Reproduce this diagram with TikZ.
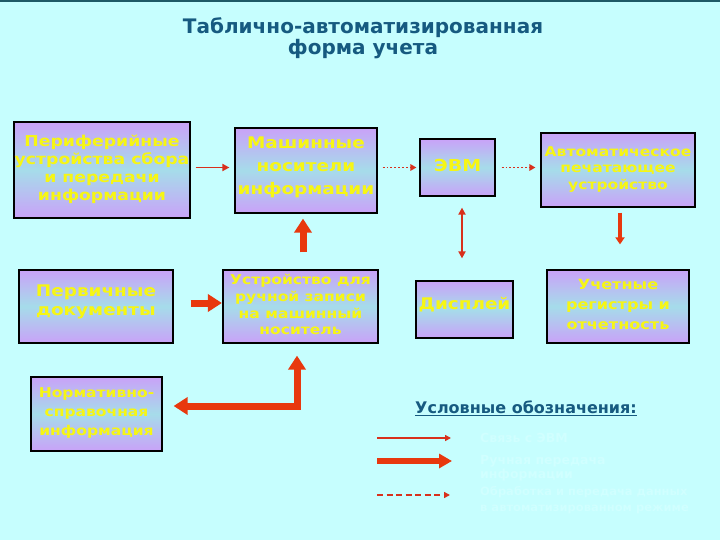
\documentclass[tikz,border=0pt]{standalone}
\usepackage{fontspec}
\setmainfont{DejaVu Sans}
\newfontfamily\boxfont[FakeStretch=1.15]{DejaVu Sans}
\usetikzlibrary{arrows.meta}
\definecolor{bg}{HTML}{C6FEFE}
\definecolor{ttl}{HTML}{165A80}
\definecolor{topline}{HTML}{1E5A66}
\definecolor{arr}{HTML}{E8380E}
\definecolor{arrd}{HTML}{D8301C}
\definecolor{vio}{HTML}{C9A2F8}
\definecolor{mid}{HTML}{A6DCEA}
\definecolor{txty}{HTML}{F6F614}
\definecolor{faint}{HTML}{D0FFFF}
\newcommand{\bxf}[2]{\boxfont\bfseries\fontsize{#1}{#2}\selectfont}
\newcommand{\uptxt}[2]{\raisebox{#1}[\height][\depth]{\begin{tabular}{@{}c@{}}#2\end{tabular}}}
\begin{document}
\begin{tikzpicture}[x=1pt,y=-1pt,
  box/.style={draw=black, line width=1.2pt, top color=vio, bottom color=vio, middle color=mid,
    text=txty, align=center, inner sep=0pt},
  thinarr/.style={draw=arrd, line width=1.9pt, -{Triangle[length=7pt,width=7pt]}},
  dotarr/.style={draw=arrd, line width=1.9pt, dotted, -{Triangle[length=6pt,width=6.5pt]}},
  medarr/.style={draw=arr, line width=3.2pt, -{Triangle[length=7pt,width=9pt]}},
  dblarr/.style={draw=arrd, line width=2.3pt, {Triangle[length=7pt,width=7pt]}-{Triangle[length=7pt,width=7pt]}},
  fatarr/.style={draw=arr, line width=7pt, -{Triangle[length=14pt,width=17pt]}},
  fatdbl/.style={draw=arr, line width=7pt, {Triangle[length=14pt,width=17pt]}-{Triangle[length=14pt,width=17pt]}},
  legtxt/.style={text=faint, anchor=west, align=left, font=\bfseries\fontsize{12.5}{14.5}\selectfont, inner sep=0pt}
]
\useasboundingbox (0,0) rectangle (720,540);
\fill[bg] (0,0) rectangle (720,540);
\draw[topline, line width=2.5pt] (0,1) -- (720,1);

% title
\node[text=ttl, align=center, font=\bfseries\fontsize{20}{20.5}\selectfont] (title) at (363,38)
  {Таблично-автоматизированная\\форма учета};

% boxes
\node[box, minimum width=176pt, minimum height=96pt, font=\bxf{15}{18}] (per) at (102,170)
  {\uptxt{0pt}{Периферийные\\устройства сбора\\и передачи\\информации}};
\node[box, minimum width=142pt, minimum height=85pt, font=\bxf{16}{23}] (mash) at (306,170.5)
  {\uptxt{3.5pt}{Машинные\\носители\\информации}};
\node[box, minimum width=75pt, minimum height=57pt, font=\bxf{16.5}{20}] (evm) at (457.5,167.5)
  {\uptxt{0pt}{ЭВМ}};
\node[box, minimum width=154pt, minimum height=74pt, font=\bxf{13.5}{16.5}] (avto) at (618,170)
  {\uptxt{0.5pt}{Автоматическое\\печатающее\\устройство}};
\node[box, minimum width=154pt, minimum height=73pt, font=\bxf{16}{19}] (perv) at (96,306.5)
  {\uptxt{4pt}{Первичные\\документы}};
\node[box, minimum width=155pt, minimum height=73pt, font=\bxf{13.5}{16.7}] (ustr) at (300.5,306.5)
  {\uptxt{0pt}{Устройство для\\ручной записи\\на машинный\\носитель}};
\node[box, minimum width=97pt, minimum height=57pt, font=\bxf{16}{20}] (disp) at (464.5,309.5)
  {\uptxt{4pt}{Дисплей}};
\node[box, minimum width=142pt, minimum height=73pt, font=\bxf{14}{20}] (uch) at (618,306.5)
  {\uptxt{1pt}{Учетные\\регистры и\\отчетность}};
\node[box, minimum width=131pt, minimum height=74pt, font=\bxf{13.5}{19}] (norm) at (96.5,414)
  {\uptxt{1pt}{Нормативно-\\справочная\\информация}};

% connectors
\draw[thinarr, shorten <=5pt, shorten >=5pt] (per.east |- evm.center) -- (mash.west |- evm.center);
\draw[dotarr, shorten <=5pt, shorten >=3pt] (mash.east |- evm.center) -- (evm.west);
\draw[dotarr, shorten <=6pt, shorten >=5pt] (evm.east) -- (avto.west |- evm.center);
\draw[fatarr, shorten <=17pt, shorten >=5pt] ([xshift=-3pt]ustr.north -| mash.south) -- ([xshift=-3pt]mash.south);
\draw[dblarr, shorten <=11pt, shorten >=22pt] ([xshift=4.5pt]evm.south) -- ([xshift=4.5pt]evm.south |- disp.north);
\draw[medarr, shorten <=5pt, shorten >=25pt] ([xshift=2pt]avto.south) -- ([xshift=2pt]uch.north);
\draw[fatarr, shorten <=17pt, shorten >=0.5pt] ([yshift=3.5pt]perv.east) -- ([yshift=3.5pt]ustr.west);
\draw[fatdbl] ([xshift=-3.5pt, yshift=-12pt]ustr.south) |- ([xshift=11pt, yshift=8pt]norm.east);

% legend
\node[text=ttl, anchor=west, inner sep=0pt, font=\bfseries\fontsize{16}{18}\selectfont] (leg) at (415,408)
  {\underline{Условные обозначения:}};
\coordinate (l1a) at (377,438); \coordinate (l1b) at (451,438);
\coordinate (l2a) at (377,461); \coordinate (l2b) at (452,461);
\coordinate (l3a) at (377,495); \coordinate (l3b) at (450,495);
\draw[thinarr, -{Triangle[length=6pt,width=6pt]}] (l1a) -- (l1b);
\draw[draw=arr, line width=6pt, -{Triangle[length=13pt,width=14pt]}] (l2a) -- (l2b);
\draw[draw=arrd, line width=2pt, dash pattern=on 6pt off 3.5pt, -{Triangle[length=6pt,width=6pt]}] (l3a) -- (l3b);
\node[legtxt] (t1) at (480,438) {Связь с ЭВМ};
\node[legtxt] (t2) at (480,468) {Ручная передача\\информации};
\node[legtxt, font=\bfseries\fontsize{11.5}{15.5}\selectfont] (t3) at (480,500) {Обработка и передача данных\\в автоматизированном режиме};
\end{tikzpicture}
\end{document}
